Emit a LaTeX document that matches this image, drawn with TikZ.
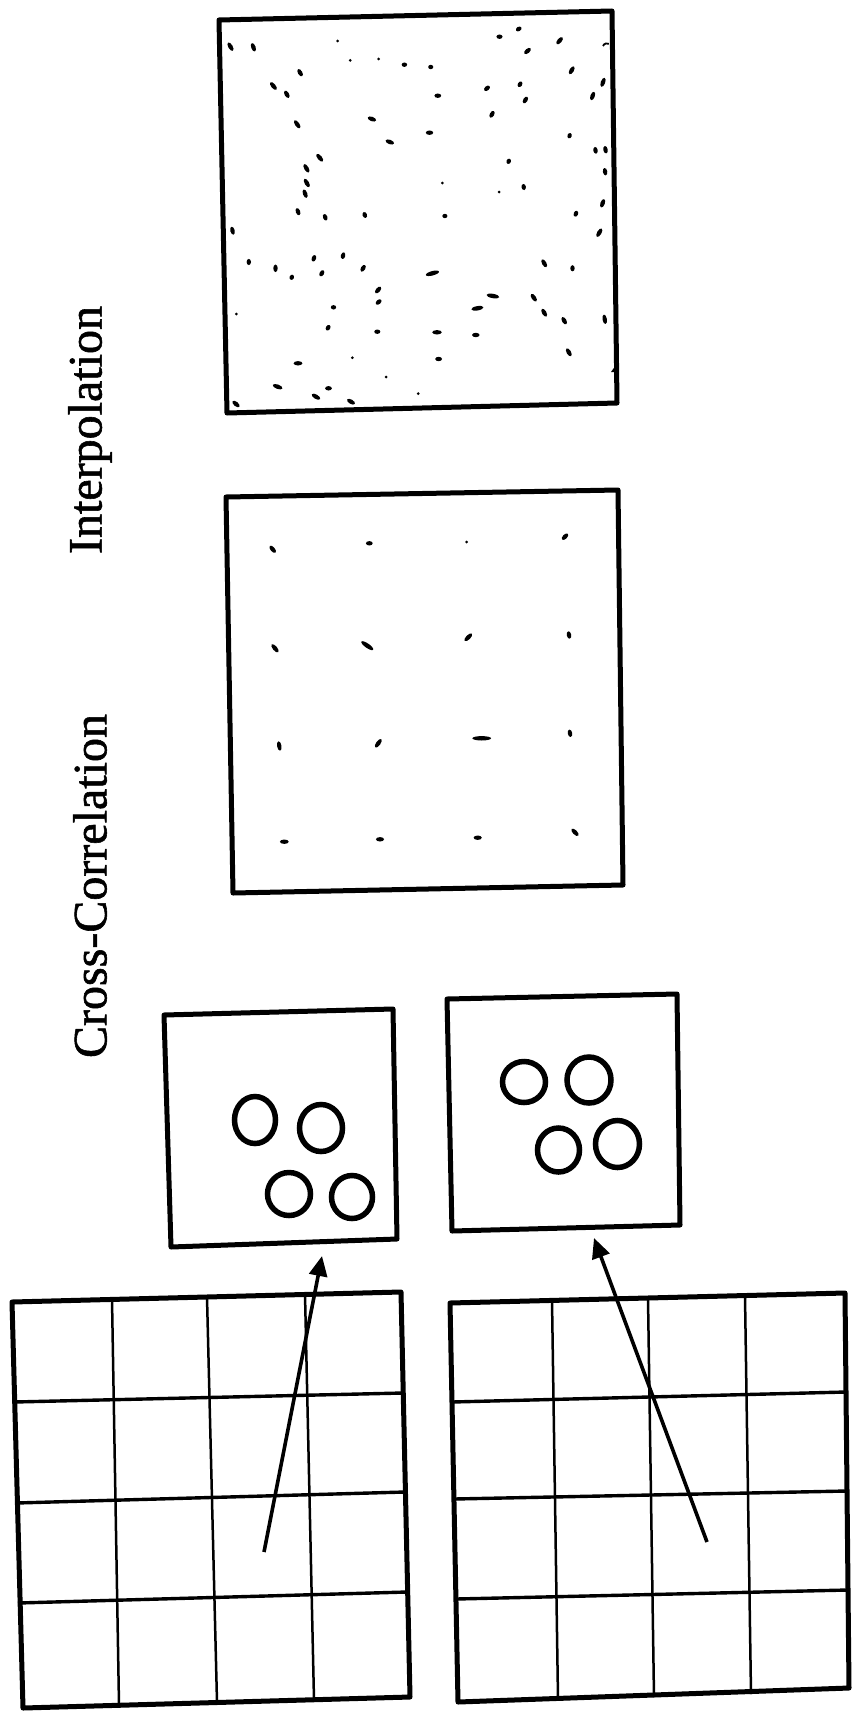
\documentclass[tikz,border=0pt]{standalone}
\usepackage{fontspec}
\setmainfont{Liberation Serif}
\newfontfamily\lblfont[FakeBold=1.2]{Liberation Serif}
\usetikzlibrary{arrows.meta}
\newcommand\dt[4]{\fill[rotate around={-#3:(#1,#2)}] (#1,#2) ellipse ({1.7*#4} and 2.2);}
\newcommand\td[2]{\fill (#1,#2) circle (1.5);}
\begin{document}
\begin{tikzpicture}[x=1pt,y=-1pt,
  frame/.style={line width=5pt,line join=round,line cap=round},
  hline/.style={line width=3.4pt},
  vline/.style={line width=2.5pt},
  blob/.style={line width=5.5pt},
  arr/.style={line width=3.6pt,-{Triangle[length=20pt,width=18pt]}},
  lbl/.style={font=\lblfont\fontsize{48}{52}\selectfont,rotate=90,inner sep=0pt}]
\useasboundingbox[fill=white] (0,0) rectangle (854,1718);

% labels
\node[lbl] (interp) at (90,430) {Interpolation};
\node[lbl] (xcorr) at (90,886) {Cross-Correlation};

% ---------- top box (interpolation field) ----------
\draw[frame] (219,20) -- (612,11) -- (617,403) -- (227,413) -- cycle;
\dt{230.5}{46.7}{60}{2.8}\dt{253.4}{47.3}{70}{2.6}\td{337.7}{41}\td{350.2}{60.3}\td{378.6}{59}
\dt{404.4}{64.7}{0}{1.6}\dt{430.7}{67}{0}{1.5}\dt{499.5}{36.7}{0}{1.8}\dt{518.7}{29}{-30}{1.8}
\dt{559.6}{40.7}{-50}{2.6}\dt{527.5}{51}{-40}{2.4}
\draw[line width=1.8pt] (603,46) arc (200:300:4);
\dt{300.1}{72.7}{60}{2.4}\dt{273.4}{86}{50}{2.8}\dt{286.8}{94.3}{60}{2.4}\dt{437.8}{95.7}{0}{2}
\dt{487}{88.3}{-40}{2}\dt{520}{84.3}{-60}{1.8}\dt{525.4}{100}{-60}{2.2}\dt{571.7}{70.3}{-60}{2.6}
\dt{603}{82.3}{-70}{2.8}\dt{592.6}{96}{-70}{2.6}
\dt{297.2}{124.3}{55}{2.8}\dt{371.9}{119}{20}{2.6}\dt{492}{114.3}{-60}{2.2}\dt{429.5}{132.7}{0}{2.2}
\dt{389.8}{142}{20}{2.6}\dt{569.6}{135.7}{-70}{1.6}\dt{595.5}{150.3}{80}{2}\dt{605.5}{149.7}{80}{2.2}
\dt{319.7}{157.7}{50}{2.8}\dt{306.4}{168.3}{60}{2.8}\dt{508.7}{161.3}{-70}{1.6}\dt{605.1}{171.7}{80}{2.2}
\dt{306.8}{183}{60}{2.8}\td{442.4}{183}\dt{305.1}{193.7}{70}{2.6}\td{499.1}{192}\dt{523.7}{187}{80}{1.8}
\dt{602.6}{203.3}{-70}{2.6}\dt{298}{211.7}{70}{2.2}\dt{325.2}{217.3}{70}{2}\dt{364.8}{215}{70}{1.8}
\dt{444.9}{216}{0}{1.5}\dt{575.9}{213.7}{-70}{1.8}\dt{232.5}{230.7}{75}{2.4}\dt{599.3}{232.7}{-60}{2.8}
\dt{248.8}{262}{90}{1.8}\dt{275.5}{268.3}{90}{2.2}\dt{313.9}{258.3}{-70}{2}\dt{343.1}{255.7}{-75}{2}
\dt{291.8}{277.3}{-70}{1.6}\dt{321.8}{273.3}{-60}{2}\dt{363.1}{268.3}{-60}{2.2}\dt{432.4}{273.3}{-15}{4}
\dt{544.2}{263.3}{60}{2.6}\dt{572.5}{268.3}{90}{1.8}\dt{378.1}{290}{-50}{2.4}\dt{378.6}{302}{-40}{2}
\dt{492.9}{296}{10}{3.8}\dt{533.8}{297.7}{55}{2.6}\dt{333.5}{307.3}{0}{1.6}\td{236.3}{314}
\dt{477.4}{308.3}{-10}{3.6}\dt{544.2}{312.7}{60}{2.6}\dt{564.2}{320.7}{60}{2.4}\dt{604.7}{319.3}{80}{2.8}
\dt{328.1}{327.7}{-60}{1.8}\dt{377.3}{331.7}{0}{1.8}\dt{437}{332.3}{0}{2.8}\dt{475.8}{335}{0}{2.2}
\dt{568.8}{352.3}{60}{2.6}\dt{298}{363.3}{0}{2.6}\td{352.3}{357.7}\dt{438.6}{359}{0}{2}
\td{386.1}{377}\dt{277.6}{386.7}{20}{3}\dt{328.5}{388.3}{0}{2}\dt{316}{396.7}{30}{2.8}
\dt{351}{401.7}{30}{2.6}\td{418.2}{393.7}\dt{236}{404}{40}{2.6}
\fill (616,365) -- (611,372) -- (616,372) -- cycle;

% ---------- middle box (sparse vectors) ----------
\draw[frame] (226,497) -- (618,490) -- (623,885) -- (233,893) -- cycle;
\dt{272.7}{549.3}{50}{2.6}\dt{369.3}{543.3}{0}{2}\td{466.7}{542}\dt{565}{536.7}{-45}{2.4}
\dt{275}{648.3}{50}{3}\dt{367.3}{645.7}{35}{4.2}\dt{468.3}{637.3}{-45}{3}\dt{569}{635}{80}{2.2}
\dt{279.3}{746}{80}{2.8}\dt{378.3}{743.3}{-55}{3}\dt{481.7}{738.3}{0}{5.5}\dt{570}{733.3}{80}{2.2}
\dt{284.3}{841.7}{0}{2.6}\dt{380}{839.3}{0}{2.4}\dt{477.7}{837.7}{0}{2.4}\dt{575}{832.3}{45}{2.8}

% ---------- small boxes with particles ----------
\draw[frame] (164,1015) -- (393,1009) -- (397,1239) -- (171,1247) -- cycle;
\draw[blob] (255,1120) ellipse (20.5 and 23.5);
\draw[blob] (321,1128) ellipse (21.5 and 23.5);
\draw[blob] (289,1194) ellipse (21.5 and 21.5);
\draw[blob] (352,1197) ellipse (20.5 and 21.5);

\draw[frame] (447,999) -- (677,994) -- (680,1225) -- (452,1231) -- cycle;
\draw[blob] (524,1082) ellipse (21.5 and 20.5);
\draw[blob] (589,1080) ellipse (22 and 23);
\draw[blob] (558.5,1150) ellipse (21 and 22);
\draw[blob] (617.5,1144) ellipse (22 and 23.5);

% ---------- grids ----------
\draw[frame] (12,1302) -- (401,1292) -- (410,1697) -- (23,1708) -- cycle;
\draw[hline] (14,1402) -- (403,1393);
\draw[hline] (16,1503) -- (405,1492);
\draw[hline] (18,1603) -- (407,1592);
\draw[vline] (112,1299) -- (119,1705);
\draw[vline] (207,1297) -- (217,1702);
\draw[vline] (305,1294) -- (314,1700);

\draw[frame] (450,1303) -- (845,1293) -- (849,1688) -- (458,1702) -- cycle;
\draw[hline] (452,1402) -- (846,1392);
\draw[hline] (454,1499) -- (847,1491);
\draw[hline] (456,1599) -- (848,1590);
\draw[vline] (552,1300) -- (558,1699);
\draw[vline] (648,1298) -- (654,1697);
\draw[vline] (745,1296) -- (751,1694);

% ---------- arrows ----------
\coordinate (s1) at (264,1552);
\coordinate (e1) at (322,1256);
\coordinate (s2) at (707,1542);
\coordinate (e2) at (594,1238);
\draw[arr] (s1) -- (e1);
\draw[arr] (s2) -- (e2);
\end{tikzpicture}
\end{document}
